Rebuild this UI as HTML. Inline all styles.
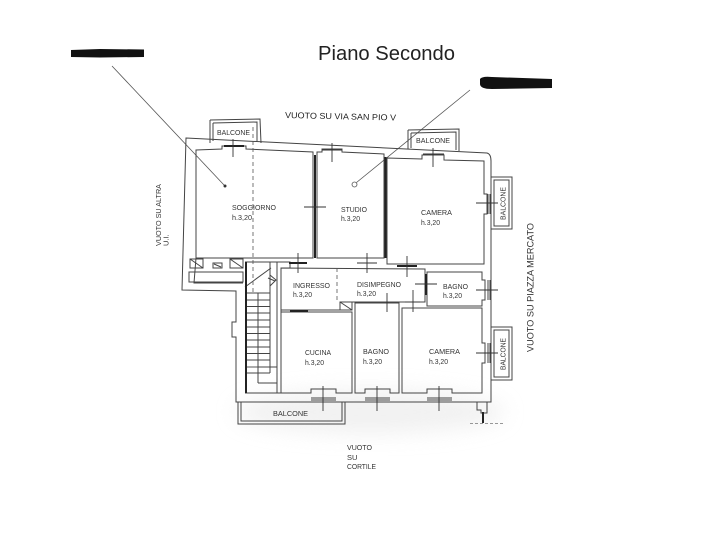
<!DOCTYPE html>
<html><head><meta charset="utf-8">
<style>html,body{margin:0;padding:0;background:#fff}svg{display:block}</style>
</head>
<body>
<svg width="703" height="534" viewBox="0 0 703 534" xmlns="http://www.w3.org/2000/svg" font-family="'Liberation Sans', Arial, sans-serif">
<defs><filter id="bl" x="-50%" y="-50%" width="200%" height="200%"><feGaussianBlur stdDeviation="10"/></filter></defs>
<rect width="703" height="534" fill="#fff"/>
<ellipse cx="370" cy="412" rx="135" ry="22" fill="#e6e6e6" filter="url(#bl)" opacity="0.55"/>

<!-- title & redactions -->
<text x="318" y="60" font-size="20" textLength="137" lengthAdjust="spacingAndGlyphs" fill="#222">Piano Secondo</text>
<path d="M71,50 L100,49 L144,49.5 L144,57 L100,57.5 L71,57 Z" fill="#111"/>
<path d="M480,79 Q482,76 492,77 L552,79 L552,88 L492,89 Q480,89 480,84 Z" fill="#111"/>

<!-- leader lines -->
<g stroke="#555" stroke-width="0.8" fill="none">
<line x1="112" y1="66" x2="224" y2="185"/>
<line x1="470" y1="90" x2="356.5" y2="182.5"/>
<circle cx="354.5" cy="184.5" r="2.5"/>
</g>
<circle cx="225" cy="186" r="1.5" fill="#333"/>

<!-- exterior labels -->
<text x="285" y="118" font-size="8.5" textLength="111" lengthAdjust="spacingAndGlyphs" fill="#222" transform="rotate(1.3 285 118)">VUOTO SU VIA SAN PIO V</text>
<text transform="translate(161,246) rotate(-90)" font-size="7.5" textLength="62" lengthAdjust="spacingAndGlyphs" fill="#333">VUOTO SU ALTRA</text>
<text transform="translate(168.5,246) rotate(-90)" font-size="7.5" fill="#333">U.I.</text>
<text transform="translate(533.5,352) rotate(-90)" font-size="9" textLength="129" lengthAdjust="spacingAndGlyphs" fill="#333">VUOTO SU PIAZZA MERCATO</text>
<text x="347" y="450" font-size="7.5" textLength="25" lengthAdjust="spacingAndGlyphs" fill="#333">VUOTO</text>
<text x="347" y="460" font-size="7.5" fill="#333">SU</text>
<text x="347" y="469" font-size="7.5" textLength="29" lengthAdjust="spacingAndGlyphs" fill="#333">CORTILE</text>

<!-- walls -->
<g stroke="#444" stroke-width="1" fill="none">
<!-- outer envelope -->
<path d="M186,138 L487,153 Q491,154 491,161 L491,402 L236,402 L236,337 L232,337 L232,322 L236,322 L236,291 L182,290 Z"/>
<!-- soggiorno -->
<path d="M196,150 L222,149 L222,146 L246,146 L246,149 L313,152 L313,258 L196,258 Z"/>
<path d="M196,258 L194,283 L243,283"/>
<!-- studio -->
<path d="M317,152 L322,152 L322,149 L342,149 L342,152 L384,154 L384,258 L317,258 Z"/>
<!-- camera -->
<path d="M387,158 L422,159 L422,155 L444,155 L444,160 L484,161 L484,194 L487,194 L487,214 L484,214 L484,264 L387,264 Z"/>
<!-- ingresso + disimpegno -->
<path d="M281,268 L425,269 L425,302 L352,302 L352,310 L281,310 Z"/>
<rect x="340" y="302" width="12" height="8"/>
<line x1="340" y1="302" x2="352" y2="310"/>
<!-- bagno small -->
<path d="M427,272 L482,272 L482,280 L485,280 L485,300 L482,300 L482,306 L427,306 Z"/>
<!-- cucina -->
<path d="M281,312 L352,312 L352,393 L336,393 L336,389 L311,389 L311,393 L281,393 Z"/>
<!-- bagno lower -->
<path d="M355,303 L399,303 L399,393 L390,393 L390,389 L365,389 L365,393 L355,393 Z"/>
<!-- camera lower -->
<path d="M402,308 L482,308 L482,343 L485,343 L485,363 L482,363 L482,393 L452,393 L452,389 L427,389 L427,393 L402,393 Z"/>
<!-- right wall window panes -->
<line x1="488" y1="194" x2="488" y2="214"/><line x1="490" y1="194" x2="490" y2="214"/>
<line x1="488" y1="280" x2="488" y2="300"/><line x1="490" y1="280" x2="490" y2="300"/>
<line x1="488" y1="343" x2="488" y2="363"/><line x1="490" y1="343" x2="490" y2="363"/>
<!-- bottom wall window panes -->
<line x1="311" y1="398" x2="336" y2="398"/><line x1="311" y1="400" x2="336" y2="400"/>
<line x1="365" y1="398" x2="390" y2="398"/><line x1="365" y1="400" x2="390" y2="400"/>
<line x1="427" y1="398" x2="452" y2="398"/><line x1="427" y1="400" x2="452" y2="400"/>
<!-- utility boxes under soggiorno -->
<rect x="190" y="259" width="13" height="9"/><line x1="190" y1="259" x2="203" y2="268"/>
<rect x="213" y="263" width="9" height="5"/><line x1="214" y1="264" x2="221" y2="267"/>
<rect x="230" y="259" width="13" height="9"/><line x1="230" y1="259" x2="243" y2="268"/>
<rect x="189" y="272" width="54" height="10"/>
<!-- stairs -->
<path d="M245,262 L290,262 L290,268 L281,268"/>
<line x1="277" y1="262" x2="277" y2="393"/>
<line x1="281" y1="268" x2="281" y2="393"/>
<line x1="245" y1="393" x2="281" y2="393"/>
<line x1="270" y1="262" x2="270" y2="373"/>
<line x1="258" y1="293" x2="258" y2="383"/>
<path d="M258,367 L277,367 M258,383 L277,383"/>
<line x1="245" y1="287" x2="271" y2="268"/>
<path d="M270,275 L276,280 L270,286 M268,278 L275,281"/>
<g stroke-width="0.9">
<line x1="246" y1="293" x2="270" y2="293"/><line x1="246" y1="300" x2="270" y2="300"/>
<line x1="246" y1="306.5" x2="270" y2="306.5"/><line x1="246" y1="313" x2="270" y2="313"/>
<line x1="246" y1="320" x2="270" y2="320"/><line x1="246" y1="327" x2="270" y2="327"/>
<line x1="246" y1="333.5" x2="270" y2="333.5"/><line x1="246" y1="340" x2="270" y2="340"/>
<line x1="246" y1="347" x2="270" y2="347"/><line x1="246" y1="353.5" x2="270" y2="353.5"/>
<line x1="246" y1="360" x2="270" y2="360"/><line x1="246" y1="367" x2="258" y2="367"/>
<line x1="246" y1="373" x2="270" y2="373"/>
</g>
<!-- balconies -->
<path d="M210,120 L260,119 L261,143 M210,143 L210,120"/>
<path d="M213,123 L257,122 L257,141 M213,141 L213,123"/>
<path d="M408,130 L459,129 L459,151 M408,149 L408,130"/>
<path d="M411,133 L456,132 L456,150 M411,148 L411,133"/>
<rect x="491" y="177" width="21" height="52"/><rect x="494" y="180" width="15" height="46"/>
<rect x="491" y="327" width="21" height="53"/><rect x="494" y="330" width="15" height="47"/>
<path d="M238,402 L238,424 L345,424 L345,402"/>
<path d="M241,402 L241,421 L342,421 L342,402"/>
<!-- bottom-right pilaster -->
<path d="M477,402 L477,410 L481,410 L481,413 L487,413 L487,402"/>
</g>

<!-- thick partitions -->
<g stroke="#222" stroke-width="2" fill="none">
<line x1="315" y1="155" x2="315" y2="258"/>
<line x1="385.5" y1="157" x2="385.5" y2="258"/>
<line x1="246" y1="262" x2="246" y2="393"/>
<line x1="483" y1="412" x2="483" y2="423"/>
<line x1="224" y1="146" x2="244" y2="146"/>
<line x1="289" y1="263" x2="307" y2="263"/>
<line x1="397" y1="266" x2="417" y2="266"/>
<line x1="290" y1="311" x2="308" y2="311"/>
<line x1="426" y1="274" x2="426" y2="295"/>
</g>
<line x1="470" y1="423.5" x2="503" y2="423.5" stroke="#777" stroke-width="0.8" stroke-dasharray="3,2"/>

<!-- dashed lines -->
<g stroke="#555" stroke-width="0.8" fill="none" stroke-dasharray="4,3">
<line x1="253" y1="127" x2="253" y2="292"/>
<line x1="337" y1="268" x2="337" y2="302"/>
</g>

<!-- window / door crosses -->
<g stroke="#333" stroke-width="0.9" fill="none">
<line x1="233" y1="139" x2="233" y2="157"/>
<line x1="332" y1="143" x2="332" y2="162"/><line x1="322" y1="150" x2="342" y2="150"/>
<line x1="433" y1="148" x2="433" y2="167"/><line x1="423" y1="154" x2="444" y2="154"/>
<line x1="304" y1="207" x2="326" y2="207"/>
<line x1="476" y1="203" x2="498" y2="203"/>
<line x1="476" y1="290" x2="498" y2="290"/>
<line x1="476" y1="353" x2="498" y2="353"/>
<line x1="298" y1="253" x2="298" y2="273"/>
<line x1="367" y1="253" x2="367" y2="273"/><line x1="357" y1="263" x2="377" y2="263"/>
<line x1="407" y1="256" x2="407" y2="277"/>
<line x1="415" y1="284" x2="437" y2="284"/>
<line x1="387" y1="293" x2="387" y2="312"/>
<line x1="413" y1="290" x2="413" y2="312"/><line x1="405" y1="302" x2="420" y2="302"/>
<line x1="323" y1="386" x2="323" y2="411"/>
<line x1="377" y1="386" x2="377" y2="411"/>
<line x1="439" y1="386" x2="439" y2="411"/>
</g>

<!-- room labels -->
<g font-size="7.5" fill="#333">
<text x="232" y="210" textLength="44" lengthAdjust="spacingAndGlyphs">SOGGIORNO</text>
<text x="232" y="220" textLength="20" lengthAdjust="spacingAndGlyphs">h.3,20</text>
<text x="341" y="212" textLength="26" lengthAdjust="spacingAndGlyphs">STUDIO</text>
<text x="341" y="221" textLength="19" lengthAdjust="spacingAndGlyphs">h.3,20</text>
<text x="421" y="215" textLength="31" lengthAdjust="spacingAndGlyphs">CAMERA</text>
<text x="421" y="225" textLength="19" lengthAdjust="spacingAndGlyphs">h.3,20</text>
<text x="293" y="288" textLength="37" lengthAdjust="spacingAndGlyphs">INGRESSO</text>
<text x="293" y="297" textLength="19" lengthAdjust="spacingAndGlyphs">h.3,20</text>
<text x="357" y="287" textLength="44" lengthAdjust="spacingAndGlyphs">DISIMPEGNO</text>
<text x="357" y="296" textLength="19" lengthAdjust="spacingAndGlyphs">h.3,20</text>
<text x="443" y="289" textLength="25" lengthAdjust="spacingAndGlyphs">BAGNO</text>
<text x="443" y="298" textLength="19" lengthAdjust="spacingAndGlyphs">h.3,20</text>
<text x="305" y="355" textLength="26" lengthAdjust="spacingAndGlyphs">CUCINA</text>
<text x="305" y="365" textLength="19" lengthAdjust="spacingAndGlyphs">h.3,20</text>
<text x="363" y="354" textLength="26" lengthAdjust="spacingAndGlyphs">BAGNO</text>
<text x="363" y="364" textLength="19" lengthAdjust="spacingAndGlyphs">h.3,20</text>
<text x="429" y="354" textLength="31" lengthAdjust="spacingAndGlyphs">CAMERA</text>
<text x="429" y="364" textLength="19" lengthAdjust="spacingAndGlyphs">h.3,20</text>
<!-- balcony labels -->
<text x="217" y="135" font-size="7" textLength="33" lengthAdjust="spacingAndGlyphs">BALCONE</text>
<text x="416" y="143" font-size="7" textLength="34" lengthAdjust="spacingAndGlyphs">BALCONE</text>
<text x="273" y="416" font-size="7" textLength="35" lengthAdjust="spacingAndGlyphs">BALCONE</text>
<text transform="translate(505.5,220) rotate(-90)" font-size="7" textLength="33" lengthAdjust="spacingAndGlyphs">BALCONE</text>
<text transform="translate(505.5,370) rotate(-90)" font-size="7" textLength="32" lengthAdjust="spacingAndGlyphs">BALCONE</text>
</g>
</svg>
</body></html>
